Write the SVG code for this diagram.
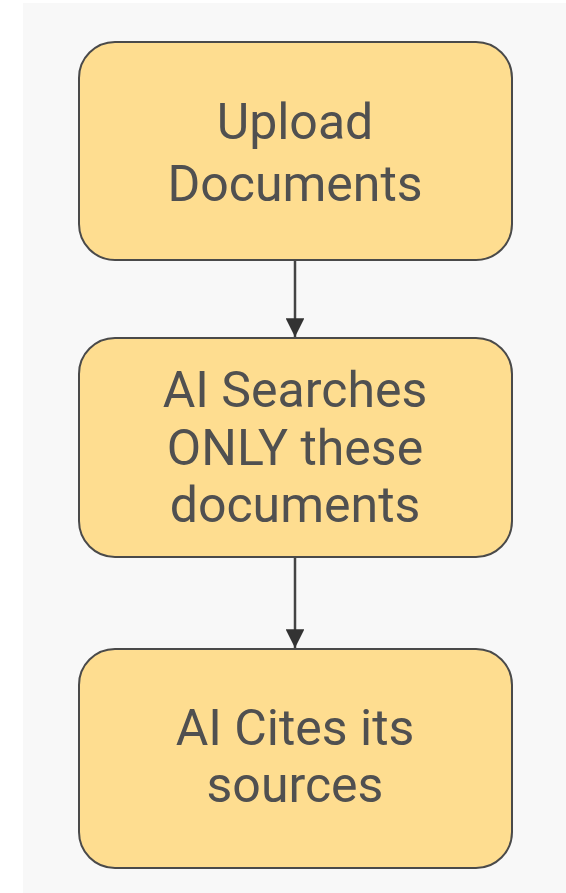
<svg xmlns="http://www.w3.org/2000/svg" width="566" height="893" viewBox="0 0 566 893">
  <style>
    .box { fill: #fedd90; stroke: #4a4a4a; stroke-width: 2; }
    .label { font-family: Roboto, "Liberation Sans", sans-serif; font-size: 50px; fill: #505050; text-anchor: middle; }
    .edge { stroke: #444; stroke-width: 2.5; fill: none; }
  </style>
  <defs>
    <marker id="arrow" viewBox="0 0 10 10" refX="10" refY="5" markerWidth="7.5" markerHeight="7.5" markerUnits="strokeWidth" orient="auto">
      <path d="M0,0 L10,5 L0,10 Z" fill="#333"/>
    </marker>
  </defs>

  <!-- page -->
  <rect x="0" y="0" width="566" height="893" fill="#ffffff"/>
  <rect x="23" y="3" width="543" height="890" fill="#f8f8f8"/>

  <!-- connectors -->
  <g id="edges">
    <line class="edge" x1="295" y1="261" x2="295" y2="337" marker-end="url(#arrow)"/>
    <line class="edge" x1="295" y1="558" x2="295" y2="648" marker-end="url(#arrow)"/>
  </g>

  <!-- nodes -->
  <g id="upload">
    <rect class="box" x="79" y="42" width="433" height="218" rx="36" ry="36"/>
    <text class="label" x="295" y="139">Upload</text>
    <text class="label" x="295" y="201">Documents</text>
  </g>

  <g id="search">
    <rect class="box" x="79" y="338" width="433" height="219" rx="36" ry="36"/>
    <text class="label" x="295" y="407">AI Searches</text>
    <text class="label" x="295" y="465">ONLY these</text>
    <text class="label" x="295" y="522">documents</text>
  </g>

  <g id="cite">
    <rect class="box" x="79" y="649" width="433" height="219" rx="36" ry="36"/>
    <text class="label" x="295" y="745">AI Cites its</text>
    <text class="label" x="295" y="802">sources</text>
  </g>
</svg>
